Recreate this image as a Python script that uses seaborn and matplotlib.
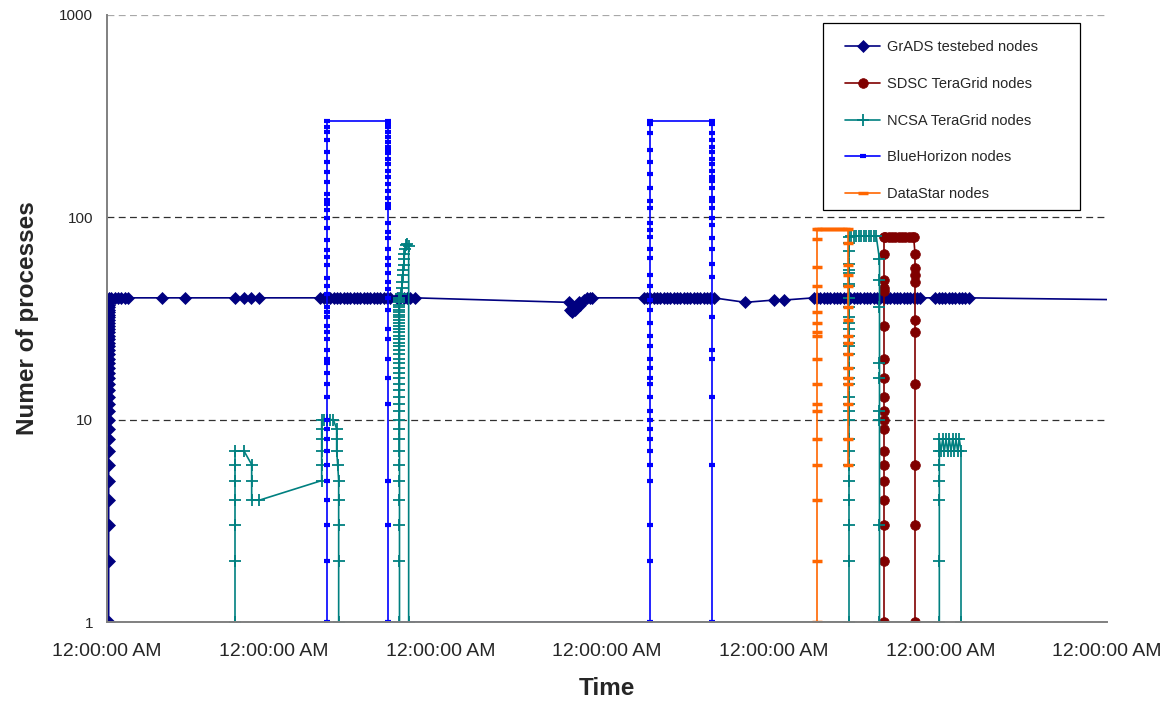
import numpy as np
import pandas as pd
import matplotlib
matplotlib.use("Agg")
import matplotlib.pyplot as plt
from matplotlib.patches import Rectangle
import seaborn as sns

# time axis in days from the first tick, counts of processes on a log axis
tick_days = [0, 1, 2, 3, 4, 5, 6]
tick_label = "12:00:00 AM"
y_ticks = [1, 10, 100, 1000]

# GrADS testbed nodes
grads_up_t = 0.01
grads_up_n = [1, 2, 3, 4, 5, 6, 7, 8, 9, 10, 11, 12, 13, 14, 15, 16, 17, 18, 19, 20,
              21, 22, 23, 24, 25, 26, 27, 28, 29, 30, 31, 32, 33, 34, 35, 36, 37, 38, 39, 40]
grads_flat_n = 40
grads_flat_t = [0.025, 0.045, 0.065, 0.085, 0.105, 0.125, 0.33, 0.47, 0.77, 0.82, 0.865, 0.91,
                1.28, 1.30, 1.32, 1.34, 1.36, 1.38, 1.40, 1.42, 1.44, 1.46, 1.48, 1.50,
                1.52, 1.54, 1.56, 1.58, 1.60, 1.62, 1.64, 1.66, 1.68, 1.70,
                1.74, 1.76, 1.78, 1.80, 1.82, 1.85]
grads_dip_t = [2.77, 2.78, 2.79, 2.80, 2.81, 2.83, 2.84, 2.86, 2.88, 2.90, 2.91]
grads_dip_n = [38, 35, 34, 36, 35, 38, 37, 39, 40, 40, 40]
grads_mid_t = [3.22, 3.24, 3.26, 3.28, 3.30, 3.32, 3.34, 3.36, 3.38, 3.40, 3.42,
               3.44, 3.46, 3.48, 3.50, 3.52, 3.54, 3.56, 3.58, 3.60, 3.62, 3.64]
grads_few_t = [3.83, 4.00, 4.06]
grads_few_n = [38, 39, 39]
grads_late_t = [4.24, 4.26, 4.28, 4.30, 4.32, 4.34, 4.36, 4.38, 4.40, 4.42, 4.44,
                4.46, 4.48, 4.50, 4.52, 4.54, 4.56, 4.58, 4.60, 4.62, 4.64, 4.66,
                4.68, 4.70, 4.72, 4.74, 4.76, 4.78, 4.80, 4.82, 4.84, 4.86, 4.88,
                4.97, 4.99, 5.01, 5.03, 5.05, 5.07, 5.09, 5.11, 5.13, 5.15, 5.17]
grads_end = (6.25, 39)

# SDSC TeraGrid nodes
sdsc_up_t = 4.662
sdsc_up_n = [1, 2, 3, 4, 5, 6, 7, 9, 10, 11, 13, 16, 20, 29, 43, 45, 49, 66, 80]
sdsc_top_t = [4.67, 4.69, 4.71, 4.73, 4.75, 4.77, 4.79, 4.81, 4.83, 4.84]
sdsc_top_n = 80
sdsc_down_t = 4.848
sdsc_down_n = [66, 56, 52, 48, 31, 27, 15, 6, 3, 1]

# NCSA TeraGrid nodes
ncsa_a_t = [0.768, 0.768, 0.768, 0.768, 0.768, 0.768, 0.768, 0.822, 0.868, 0.868, 0.868, 0.914,
            1.288, 1.288, 1.288, 1.288, 1.288, 1.288, 1.30, 1.32, 1.34, 1.358,
            1.378, 1.378, 1.378, 1.384, 1.39, 1.39, 1.39, 1.39, 1.39]
ncsa_a_n = [1, 2, 3, 4, 5, 6, 7, 7, 6, 5, 4, 4,
            5, 6, 7, 8, 9, 10, 10, 10, 10, 10,
            9, 8, 7, 6, 5, 4, 3, 2, 1]
ncsa_ramp_t = 1.755
ncsa_ramp_n = [1, 2, 3, 4, 5, 6, 7, 8, 9, 10, 11, 12, 13, 14, 15, 16, 17, 18, 19, 20,
               21, 22, 23, 24, 25, 26, 27, 28, 29, 30, 31, 32, 33, 34, 35, 36, 37, 38, 39, 40]
ncsa_tip_t = [1.765, 1.77, 1.772, 1.775, 1.778, 1.78, 1.782, 1.785, 1.79, 1.795, 1.80, 1.81, 1.81]
ncsa_tip_n = [42, 45, 48, 52, 55, 58, 62, 66, 70, 73, 74, 72, 1]
ncsa_up_t = 4.452
ncsa_up_n = [1, 2, 3, 4, 5, 6, 7, 8, 10, 11, 12, 13, 15, 16, 18, 21, 23, 24, 26, 28,
             30, 32, 36, 40, 46, 47, 53, 55, 59, 68, 75, 80]
ncsa_top_t = [4.465, 4.48, 4.495, 4.51, 4.525, 4.54, 4.555, 4.57, 4.585, 4.60, 4.615]
ncsa_top_n = 81
ncsa_down_t = 4.635
ncsa_down_n = [62, 49, 36, 19, 16, 11, 10, 3, 1]
ncsa_last_t = [4.994, 4.994, 4.994, 4.994, 4.994, 4.994, 4.994,
               5.004, 5.014, 5.024, 5.034, 5.044, 5.054, 5.064, 5.074, 5.084,
               5.094, 5.104, 5.114, 5.124, 5.124]
ncsa_last_n = [1, 2, 4, 5, 6, 7, 8,
               7, 8, 7, 8, 7, 8, 7, 8, 7,
               8, 7, 8, 7, 1]

# BlueHorizon nodes
bh1_up_t = 1.318
bh1_up_n = [1, 2, 3, 4, 5, 6, 7, 8, 9, 10, 13, 15, 17, 19, 20, 22, 25, 27, 29, 32, 34, 36,
            42, 46, 50, 58, 64, 69, 77, 89, 99, 109, 116, 122, 130, 149, 167, 188, 210,
            241, 265, 281, 300]
bh1_down_t = 1.688
bh1_down_n = [300, 292, 281, 265, 250, 236, 223, 215, 207, 195, 184, 170, 158, 146, 135,
              125, 116, 111, 94, 85, 79, 70, 63, 58, 53, 48, 44, 40, 35, 28, 25, 20, 16,
              12, 5, 3, 1]
bh2_up_t = 3.258
bh2_up_n = [1, 2, 3, 5, 6, 7, 8, 9, 10, 11, 13, 15, 16, 18, 20, 23, 26, 30, 35, 39, 46,
            52, 63, 70, 80, 87, 94, 111, 120, 140, 163, 188, 214, 260, 288, 300]
bh2_down_t = 3.628
bh2_down_n = [300, 288, 260, 241, 223, 210, 195, 184, 170, 158, 152, 140, 125, 120, 111,
              99, 92, 79, 70, 59, 51, 32, 22, 20, 13, 6, 1]

# DataStar nodes
ds_up_t = 4.258
ds_up_n = [1, 2, 4, 6, 8, 11, 12, 15, 20, 26, 27, 30, 34, 46, 57, 78, 88]
ds_top_t = [4.27, 4.29, 4.31, 4.33, 4.35, 4.37, 4.39, 4.41, 4.43]
ds_top_n = 88
ds_down_t = 4.446
ds_down_n = [88, 75, 58, 52, 46, 36, 31, 26, 24, 21, 18, 16, 15, 12, 8, 6]


def col(t, ns):
    return [t] * len(ns), list(ns)


def row(ts, n):
    return list(ts), [n] * len(ts)


def join(*parts):
    ts, ns = [], []
    for a, b in parts:
        ts += list(a)
        ns += list(b)
    return ts, ns


series = {
    "GrADS testebed nodes": join(col(grads_up_t, grads_up_n), row(grads_flat_t, grads_flat_n),
                                 (grads_dip_t, grads_dip_n), row(grads_mid_t, grads_flat_n),
                                 (grads_few_t, grads_few_n), row(grads_late_t, grads_flat_n),
                                 ([grads_end[0]], [grads_end[1]])),
    "SDSC TeraGrid nodes": join(col(sdsc_up_t, sdsc_up_n), row(sdsc_top_t, sdsc_top_n),
                                col(sdsc_down_t, sdsc_down_n)),
    "NCSA TeraGrid nodes": join((ncsa_a_t, ncsa_a_n), col(ncsa_ramp_t, ncsa_ramp_n),
                                (ncsa_tip_t, ncsa_tip_n), col(ncsa_up_t, ncsa_up_n),
                                row(ncsa_top_t, ncsa_top_n), col(ncsa_down_t, ncsa_down_n),
                                (ncsa_last_t, ncsa_last_n)),
    "BlueHorizon nodes": join(col(bh1_up_t, bh1_up_n), col(bh1_down_t, bh1_down_n),
                              col(bh2_up_t, bh2_up_n), col(bh2_down_t, bh2_down_n)),
    "DataStar nodes": join(col(ds_up_t, ds_up_n), row(ds_top_t, ds_top_n),
                           col(ds_down_t, ds_down_n)),
}

styles = {
    "GrADS testebed nodes": dict(color="#000080", marker="D", markersize=6.5, lw=1.2),
    "SDSC TeraGrid nodes": dict(color="#800000", marker="o", markersize=7, lw=1.2),
    "NCSA TeraGrid nodes": dict(color="#008080", marker="+", markersize=8, markeredgewidth=1.3, lw=1.2),
    "BlueHorizon nodes": dict(color="#0000FF", marker="_", markersize=4.5, markeredgewidth=3, lw=1.2),
    "DataStar nodes": dict(color="#FF6600", marker="_", markersize=7, markeredgewidth=2.5, lw=1.2),
}

sns.set_style("white")
plt.rcParams["font.family"] = ["Liberation Sans", "DejaVu Sans"]

fig = plt.figure(figsize=(11.7, 7.04), dpi=100)
ax = fig.add_axes([107 / 1170, 1 - 622 / 704, 1000 / 1170, 607 / 704])

for name, (ts, ns) in series.items():
    df = pd.DataFrame({"t": ts, "n": ns})
    st = styles[name]
    sns.lineplot(data=df, x="t", y="n", sort=False, estimator=None, ax=ax, label=name,
                 color=st["color"], marker=st["marker"], markersize=st["markersize"],
                 markeredgewidth=st.get("markeredgewidth", 0.5), markeredgecolor=st["color"],
                 linewidth=st["lw"])

ax.set_yscale("log")
ax.set_ylim(1, 1000)
ax.set_xlim(0, 6)
ax.set_yticks(y_ticks)
ax.set_yticklabels([str(v) for v in y_ticks])
ax.yaxis.set_minor_locator(matplotlib.ticker.NullLocator())
ax.set_xticks(tick_days)
ax.set_xticklabels([tick_label] * len(tick_days))
ax.tick_params(axis="both", which="major", length=4, width=1,
               color="#808080", direction="out")
ax.tick_params(axis="y", labelsize=11, pad=6)
ax.tick_params(axis="x", labelsize=14, pad=11)

ax.grid(axis="y", which="major", color="#303030", lw=0.9, ls=(0, (5.5, 3.5)))
ax.grid(axis="x", visible=False)
glines = ax.yaxis.get_gridlines()
glines[-1].set_color("#a8a8a8")

for side in ["top", "right"]:
    ax.spines[side].set_visible(False)
for side in ["left", "bottom"]:
    ax.spines[side].set_color("#808080")
    ax.spines[side].set_linewidth(1.4)

ax.set_xlabel("Time", fontsize=17.5, fontweight="bold")
ax.set_ylabel("Numer of processes", fontsize=17.5, fontweight="bold")
ax.xaxis.set_label_coords(0.5, -0.091)
ax.yaxis.set_label_coords(-0.068, 0.5)

# legend box (Excel style, fixed size) with the entries placed inside it
box = Rectangle((0.716, 0.6787), 0.257, 0.308, transform=ax.transAxes,
                facecolor="white", edgecolor="#000000", lw=0.9, zorder=4.5)
ax.add_patch(box)
leg = ax.legend(loc="upper left", bbox_to_anchor=(0.738, 0.958), borderaxespad=0,
                borderpad=0, fontsize=10.5, frameon=False, labelspacing=1.55,
                handlelength=2.4, handletextpad=0.45)
leg.set_zorder(5)

fig.savefig("out.png", dpi=100)
